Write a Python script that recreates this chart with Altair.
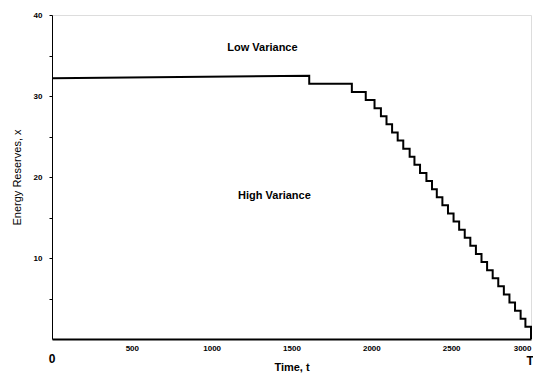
import altair as alt
import pandas as pd

# Times (t) at which reserves drop one level
drop_times = [1611, 1878, 1965,
              2020, 2060, 2095, 2130, 2165, 2200, 2240, 2270, 2305, 2345,
              2380, 2410, 2445, 2480, 2515, 2550, 2585, 2620, 2655, 2690,
              2725, 2760, 2795, 2830, 2865, 2900, 2935, 2965, 3000]
# Reserve level before each drop, followed by the final level
levels = [32.5, 31.5, 30.5, 29.5, 28.5, 27.5, 26.5, 25.5, 24.5, 23.5,
          22.5, 21.5, 20.5, 19.5, 18.5, 17.5, 16.5, 15.5, 14.5, 13.5,
          12.5, 11.5, 10.5, 9.5, 8.5, 7.5, 6.5, 5.5, 4.5, 3.5, 2.5, 1.5, 0.0]
start_time = 0
start_level = 32.2

x_ticks = [500, 1000, 1500, 2000, 2500, 3000]
y_ticks = [5, 10, 15, 20, 25, 30, 35, 40]

ann_text = ["Low Variance", "High Variance"]
ann_t = [1318, 1393]
ann_x = [35.9, 17.6]

corner_text = ["0", "T"]
corner_t = [0, 2995]
corner_x = [-2.5, -2.7]

rows = [{"t": start_time, "x": start_level, "o": 0}]
o = 1
for i, tt in enumerate(drop_times):
    rows.append({"t": tt, "x": levels[i], "o": o}); o += 1
    rows.append({"t": tt, "x": levels[i + 1], "o": o}); o += 1
curve = pd.DataFrame(rows)

FONT = "Liberation Sans"

xscale = alt.Scale(domain=[0, 3000], nice=False, zero=False)
yscale = alt.Scale(domain=[0, 40], nice=False)

line = alt.Chart(curve).mark_line(color="black", strokeWidth=2, interpolate="linear").encode(
    x=alt.X("t:Q", scale=xscale,
            axis=alt.Axis(values=x_ticks, title="Time, t", ticks=False, grid=False, format="d",
                          labelFont=FONT, labelFontWeight="bold", labelFontSize=8,
                          labelPadding=5, domainColor="black", domainWidth=2,
                          titleFont=FONT, titleFontWeight="bold", titleFontSize=11,
                          titlePadding=9, labelColor="black", titleColor="black")),
    y=alt.Y("x:Q", scale=yscale,
            axis=alt.Axis(values=y_ticks, title="Energy Reserves, x", grid=False,
                          labelExpr="datum.value % 10 == 0 ? datum.label : ''",
                          tickSize=3, tickColor="black", domainColor="black",
                          labelFont=FONT, labelFontWeight="bold", labelFontSize=8,
                          labelPadding=7, titleFont=FONT, titleFontWeight="normal",
                          titleFontSize=11, titlePadding=11,
                          labelColor="black", titleColor="black")),
    order="o:Q",
)

ann = alt.Chart(pd.DataFrame({"label": ann_text, "t": ann_t, "x": ann_x})).mark_text(
    font=FONT, fontWeight="bold", fontSize=11, color="black"
).encode(x=alt.X("t:Q", scale=xscale), y=alt.Y("x:Q", scale=yscale), text="label:N")

corner = alt.Chart(pd.DataFrame({"label": corner_text, "t": corner_t, "x": corner_x})).mark_text(
    font=FONT, fontWeight="bold", fontSize=12, color="black"
).encode(x=alt.X("t:Q", scale=xscale), y=alt.Y("x:Q", scale=yscale), text="label:N")

chart = alt.layer(line, ann, corner).properties(
    width=479, height=324,
    autosize=alt.AutoSizeParams(type="none"),
    padding={"left": 44, "top": 7, "right": 2, "bottom": 34},
).configure_view(stroke=None).configure(background="white")

chart.save("out.html", embed_options={"renderer": "svg", "actions": False})
